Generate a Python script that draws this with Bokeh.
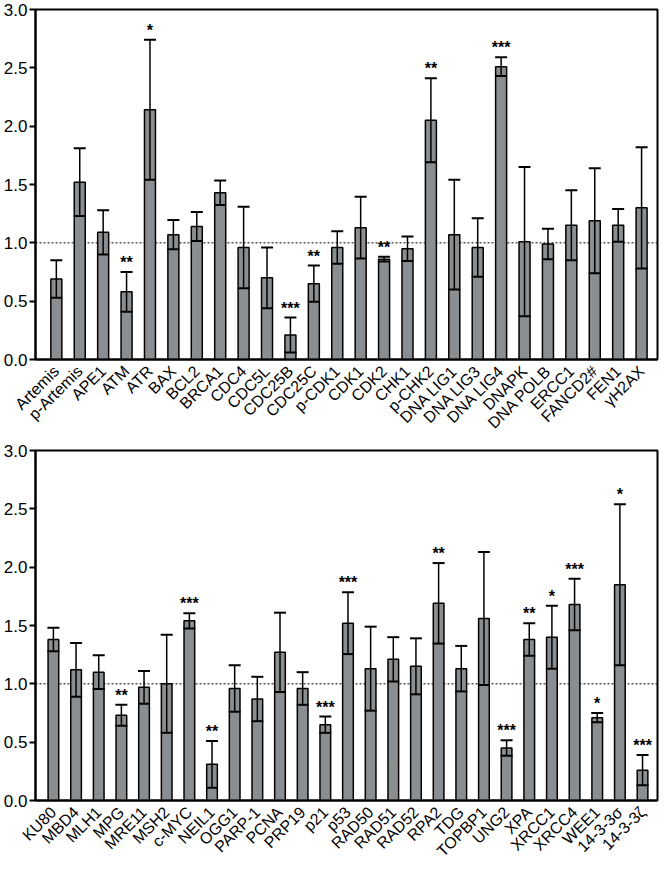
import math
from bokeh.plotting import figure
from bokeh.models import ColumnDataSource, Range1d, FixedTicker, Whisker, TeeHead, Span
from bokeh.layouts import column
from bokeh.core.properties import value
from bokeh.embed import file_html
from bokeh.resources import INLINE

# ---- data: top panel ----
top_genes = ["Artemis", "p-Artemis", "APE1", "ATM", "ATR", "BAX", "BCL2", "BRCA1", "CDC4",
             "CDC5L", "CDC25B", "CDC25C", "p-CDK1", "CDK1", "CDK2", "CHK1", "p-CHK2",
             "DNA LIG1", "DNA LIG3", "DNA LIG4", "DNAPK", "DNA POLB", "ERCC1", "FANCD2#",
             "FEN1", "γH2AX"]
top_mean = [0.69, 1.52, 1.09, 0.58, 2.14, 1.07, 1.14, 1.43, 0.96,
            0.70, 0.21, 0.65, 0.96, 1.13, 0.86, 0.95, 2.05,
            1.07, 0.96, 2.51, 1.01, 0.99, 1.15, 1.19,
            1.15, 1.30]
top_sd = [0.16, 0.29, 0.19, 0.17, 0.60, 0.125, 0.125, 0.105, 0.35,
          0.26, 0.15, 0.155, 0.14, 0.265, 0.02, 0.105, 0.36,
          0.47, 0.25, 0.08, 0.64, 0.13, 0.30, 0.45,
          0.14, 0.52]
top_sig = ["", "", "", "**", "*", "", "", "", "",
           "", "***", "**", "", "", "**", "", "**",
           "", "", "***", "", "", "", "",
           "", ""]

# ---- data: bottom panel ----
bot_genes = ["KU80", "MBD4", "MLH1", "MPG", "MRE11", "MSH2", "c-MYC", "NEIL1", "OGG1",
             "PARP-1", "PCNA", "PRP19", "p21", "p53", "RAD50", "RAD51", "RAD52", "RPA2",
             "TDG", "TOPBP1", "UNG2", "XPA", "XRCC1", "XRCC4", "WEE1", "14-3-3σ", "14-3-3ζ"]
bot_mean = [1.38, 1.12, 1.10, 0.73, 0.97, 1.00, 1.54, 0.31, 0.96,
            0.87, 1.27, 0.96, 0.65, 1.52, 1.13, 1.21, 1.15, 1.69,
            1.13, 1.56, 0.45, 1.38, 1.40, 1.68, 0.71, 1.85, 0.26]
bot_sd = [0.10, 0.23, 0.145, 0.09, 0.14, 0.42, 0.065, 0.20, 0.20,
          0.19, 0.34, 0.14, 0.07, 0.265, 0.36, 0.19, 0.24, 0.345,
          0.195, 0.57, 0.066, 0.14, 0.27, 0.22, 0.04, 0.69, 0.13]
bot_sig = ["", "", "", "**", "", "", "***", "**", "",
           "", "", "", "***", "***", "", "", "", "**",
           "", "", "***", "**", "*", "***", "*", "*", "***"]

y_ticks = [0.0, 0.5, 1.0, 1.5, 2.0, 2.5, 3.0]

FONT = "Liberation Sans"
BAR_COLOR = "#8b8e90"


def make_panel(genes, mean, sd, sig, x_start, x_end, height, border_top, border_bottom):
    n = len(genes)
    xs = list(range(n))
    upper = [m + s for m, s in zip(mean, sd)]
    lower = [m - s for m, s in zip(mean, sd)]
    src = ColumnDataSource(dict(x=xs, top=mean, upper=upper, lower=lower, sig=sig))

    p = figure(width=659, height=height, output_backend="svg", toolbar_location=None,
               x_range=Range1d(x_start, x_end), y_range=Range1d(0, 3.0),
               min_border_left=28, min_border_right=2,
               min_border_top=border_top, min_border_bottom=border_bottom)
    p.grid.visible = False
    p.outline_line_color = "black"
    p.outline_line_width = 2
    p.background_fill_color = "white"
    p.border_fill_color = "white"

    ref = Span(location=1.0, dimension="width", line_color="black", line_width=1,
               line_dash="2 2", level="underlay")
    p.add_layout(ref)

    p.vbar(x="x", top="top", bottom=0, width=0.47, source=src,
           fill_color=BAR_COLOR, line_color="black", line_width=1.5)

    w = Whisker(base="x", upper="upper", lower="lower", source=src,
                line_color="black", line_width=1.5, level="overlay",
                upper_head=TeeHead(size=12, line_color="black", line_width=2),
                lower_head=TeeHead(size=12, line_color="black", line_width=2))
    p.add_layout(w)

    p.text(x="x", y="upper", text="sig", source=src, text_align="center",
           text_baseline="bottom", y_offset=-1, text_font=value(FONT),
           text_font_size="16px", text_font_style="bold", text_color="black")

    # y axis
    p.yaxis.ticker = FixedTicker(ticks=y_ticks)
    p.yaxis.major_label_overrides = {t: f"{t:.1f}" for t in y_ticks}
    p.yaxis.major_label_text_font = FONT
    p.yaxis.major_label_text_font_size = "17px"
    p.yaxis.major_label_text_color = "black"
    p.yaxis.axis_line_width = 2
    p.yaxis.major_tick_line_width = 2
    p.yaxis.major_tick_out = 6
    p.yaxis.major_tick_in = 0
    p.yaxis.minor_tick_line_color = None
    p.yaxis.major_label_standoff = 2

    # x axis
    p.xaxis.ticker = FixedTicker(ticks=xs)
    p.xaxis.major_label_overrides = {i: g for i, g in zip(xs, genes)}
    p.xaxis.major_label_orientation = math.pi / 4
    p.xaxis.major_label_text_font = FONT
    p.xaxis.major_label_text_font_size = "16px"
    p.xaxis.major_label_text_color = "black"
    p.xaxis.axis_line_width = 2
    p.xaxis.major_tick_line_color = None
    p.xaxis.minor_tick_line_color = None
    p.xaxis.major_label_standoff = 3
    return p


top = make_panel(top_genes, top_mean, top_sd, top_sig, -0.89, 25.68, 440, 9, 76)
bot = make_panel(bot_genes, bot_mean, bot_sd, bot_sig, -0.79, 26.66, 428, 10, 66)

layout = column(top, bot, spacing=0)
open("out.html", "w").write(file_html(layout, INLINE))
